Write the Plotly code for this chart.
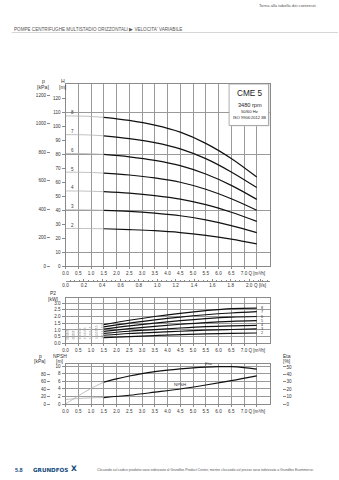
import plotly.graph_objects as go

W, H = 339, 480
FONT = "Liberation Sans"
TXT = "#333333"
GRID = "#9a9a9a"
BORDER = "#8a8a8a"


def fx(p):
    return p / W


def fy(p):
    return 1 - p / H


# ---------------- data ----------------
stages = [8, 7, 6, 5, 4, 3, 2]
q_gray = [0, 0.75, 1.5]
q_black = [1.5, 2.5, 3.5, 4.5, 5.5, 6.5, 7.5]

# head curves [m]
h_gray = [
    [107.2, 107.0, 106.2],
    [93.8, 93.7, 93.0],
    [80.4, 80.3, 79.7],
    [67.0, 66.9, 66.4],
    [53.6, 53.5, 53.1],
    [40.2, 40.1, 39.8],
    [26.8, 26.8, 26.6],
]
h_black = [
    [106.2, 104.0, 100.6, 95.6, 87.6, 76.8, 63.5],
    [93.0, 91.0, 88.1, 83.7, 76.7, 67.2, 56.0],
    [79.7, 78.0, 75.5, 71.7, 65.7, 57.6, 47.6],
    [66.4, 65.0, 62.9, 59.8, 54.8, 48.0, 39.8],
    [53.1, 52.0, 50.3, 47.8, 43.8, 38.4, 31.9],
    [39.8, 39.0, 37.7, 35.9, 32.9, 28.8, 23.8],
    [26.6, 26.0, 25.2, 23.9, 21.9, 19.2, 15.8],
]

# power curves P2 [kW]
p2_gray = [
    [0.95, 1.12, 1.39],
    [0.83, 0.98, 1.22],
    [0.72, 0.85, 1.06],
    [0.62, 0.73, 0.89],
    [0.52, 0.61, 0.74],
    [0.42, 0.49, 0.60],
    [0.32, 0.36, 0.42],
]
p2_black = [
    [1.39, 1.72, 2.00, 2.24, 2.44, 2.59, 2.63],
    [1.22, 1.50, 1.75, 1.96, 2.13, 2.26, 2.36],
    [1.06, 1.30, 1.51, 1.69, 1.84, 1.95, 2.00],
    [0.89, 1.09, 1.27, 1.42, 1.55, 1.64, 1.69],
    [0.74, 0.90, 1.02, 1.14, 1.24, 1.30, 1.34],
    [0.60, 0.73, 0.82, 0.90, 0.98, 1.03, 1.07],
    [0.42, 0.50, 0.58, 0.65, 0.70, 0.74, 0.77],
]

# NPSH [m]
npsh_q_gray = [0, 0.75, 1.5]
npsh_gray = [1.2, 1.55, 1.7]
npsh_q_black = [1.5, 2.5, 3.5, 4.5, 5.5, 6.5, 7.5]
npsh_black = [1.7, 2.3, 3.1, 3.95, 5.0, 6.15, 7.4]

# Efficiency [%]
eta_q_gray = [0, 0.5, 1.0, 1.5]
eta_gray = [0, 11, 21, 29.5]
eta_q_black = [1.5, 2.0, 2.5, 3.0, 3.5, 4.0, 4.5, 5.0, 5.5, 6.0, 6.5, 7.0, 7.5]
eta_black = [29.5, 34, 37.8, 41, 43.6, 45.7, 47.4, 48.8, 49.8, 50.4, 50.5, 49.2, 47]

# tick labels
q_ticks = [0, 0.5, 1.0, 1.5, 2.0, 2.5, 3.0, 3.5, 4.0, 4.5, 5.0, 5.5, 6.0, 6.5, 7.0, 7.5]
q_ticktext = ["0.0", "0.5", "1.0", "1.5", "2.0", "2.5", "3.0", "3.5", "4.0", "4.5",
              "5.0", "5.5", "6.0", "6.5", "7.0", "Q [m³/h]"]
ls_ticks = [0, 0.2, 0.4, 0.6, 0.8, 1.0, 1.2, 1.4, 1.6, 1.8, 2.0, 2.12]
ls_ticktext = ["0.0", "0.2", "0.4", "0.6", "0.8", "1.0", "1.2", "1.4", "1.6", "1.8", "2.0", "Q [l/s]"]
h_ticks = [0, 10, 20, 30, 40, 50, 60, 70, 80, 90, 100, 110, 120]
h_grid = [10, 40, 80, 110]
kpa_ticks = [0, 200, 400, 600, 800, 1000, 1200]
p2_ticks = [0, 0.5, 1.0, 1.5, 2.0, 2.5, 3.0]
p2_ticktext = ["0.0", "0.5", "1.0", "1.5", "2.0", "2.5", "3.0"]
npsh_ticks = [0, 2, 4, 6, 8, 10]
npsh_kpa_ticks = [0, 20, 40, 60, 80]
eta_ticks = [0, 10, 20, 30, 40, 50]

# ---------------- figure ----------------
fig = go.Figure()

GRAYC = "#b0b0b0"
BLACKC = "#111111"

for i, n in enumerate(stages):
    fig.add_trace(go.Scatter(x=q_gray, y=h_gray[i], mode="lines", xaxis="x", yaxis="y",
                             line=dict(color=GRAYC, width=0.8, shape="spline"), hoverinfo="skip"))
    fig.add_trace(go.Scatter(x=q_black, y=h_black[i], mode="lines", xaxis="x", yaxis="y",
                             line=dict(color=BLACKC, width=1.2, shape="spline"), hoverinfo="skip"))
    fig.add_trace(go.Scatter(x=q_gray, y=p2_gray[i], mode="lines", xaxis="x3", yaxis="y4",
                             line=dict(color=GRAYC, width=0.8, shape="spline", dash="dot"), hoverinfo="skip"))
    fig.add_trace(go.Scatter(x=q_black, y=p2_black[i], mode="lines", xaxis="x3", yaxis="y4",
                             line=dict(color=BLACKC, width=1.2, shape="spline"), hoverinfo="skip"))

fig.add_trace(go.Scatter(x=npsh_q_gray, y=npsh_gray, mode="lines", xaxis="x4", yaxis="y5",
                         line=dict(color=GRAYC, width=0.8, shape="spline"), hoverinfo="skip"))
fig.add_trace(go.Scatter(x=npsh_q_black, y=npsh_black, mode="lines", xaxis="x4", yaxis="y5",
                         line=dict(color=BLACKC, width=1.2, shape="spline"), hoverinfo="skip"))
fig.add_trace(go.Scatter(x=eta_q_gray, y=eta_gray, mode="lines", xaxis="x4", yaxis="y7",
                         line=dict(color=GRAYC, width=0.8, shape="spline"), hoverinfo="skip"))
fig.add_trace(go.Scatter(x=eta_q_black, y=eta_black, mode="lines", xaxis="x4", yaxis="y7",
                         line=dict(color=BLACKC, width=1.2, shape="spline"), hoverinfo="skip"))

# invisible carriers so that the secondary axes (kPa, l/s, grid helper) are drawn
for xa, ya in [("x", "y2"), ("x", "y3"), ("x2", "y"), ("x4", "y6")]:
    fig.add_trace(go.Scatter(x=[None], y=[None], xaxis=xa, yaxis=ya, mode="markers",
                             marker=dict(opacity=0), hoverinfo="skip"))

tickfont = dict(family=FONT, size=4.6, color=TXT)
XDOM = [fx(65.5), fx(269.5)]


def xaxis_common(anchor):
    return dict(domain=XDOM, range=[0, 8], anchor=anchor, tickvals=q_ticks, ticktext=q_ticktext,
                tickangle=0, showgrid=True, gridcolor=GRID, gridwidth=0.7, showline=True, mirror=True,
                linecolor=BORDER, linewidth=1, ticks="outside", ticklen=2, tickcolor=BORDER,
                tickfont=tickfont, zeroline=False, fixedrange=True)


layout = dict(
    width=W, height=H, margin=dict(l=0, r=0, t=0, b=0, autoexpand=False),
    paper_bgcolor="white", plot_bgcolor="white", showlegend=False,
    font=dict(family=FONT, color=TXT),
    xaxis=xaxis_common("y"),
    xaxis2=dict(overlaying="x", anchor="free", position=fy(281), side="bottom", range=[0, 8 / 3.6],
                tickvals=ls_ticks, ticktext=ls_ticktext, tickangle=0, showgrid=False, showline=True,
                linecolor=BORDER, linewidth=0.8, ticks="inside", ticklen=2.5, tickcolor=BORDER,
                minor=dict(dtick=0.05, ticks="inside", ticklen=1.5, tickcolor=BORDER),
                tickfont=tickfont, zeroline=False),
    xaxis3=xaxis_common("y4"),
    xaxis4=xaxis_common("y5"),
    yaxis=dict(domain=[fy(266), fy(84)], range=[0, 130], anchor="x", tickvals=h_ticks,
               showgrid=False, showline=True, mirror=True, linecolor=BORDER, linewidth=1,
               ticks="outside", ticklen=3, tickcolor=BORDER, tickfont=tickfont, zeroline=False),
    yaxis2=dict(overlaying="y", anchor="free", position=fx(50), side="left", range=[0, 1280],
                tickvals=kpa_ticks, showgrid=False, showline=False, ticks="outside", ticklen=3,
                tickcolor=BORDER, tickfont=tickfont, zeroline=False),
    yaxis3=dict(overlaying="y", anchor="x", range=[0, 130], tickvals=h_grid, showgrid=True,
                gridcolor=GRID, gridwidth=0.7, showticklabels=False, ticks="", showline=False,
                zeroline=False),
    yaxis4=dict(domain=[fy(343.3), fy(298)], range=[0, 3.38], anchor="x3", tickvals=p2_ticks,
                ticktext=p2_ticktext, showgrid=True, gridcolor=GRID, gridwidth=0.7, showline=True,
                mirror=True, linecolor=BORDER, linewidth=1, ticks="outside", ticklen=3,
                tickcolor=BORDER, tickfont=tickfont, zeroline=False),
    yaxis5=dict(domain=[fy(404), fy(364.3)], range=[0, 10.45], anchor="x4", tickvals=npsh_ticks,
                showgrid=True, gridcolor=GRID, gridwidth=0.7, showline=True, mirror=True,
                linecolor=BORDER, linewidth=1, ticks="outside", ticklen=3, tickcolor=BORDER,
                tickfont=tickfont, zeroline=False),
    yaxis6=dict(overlaying="y5", anchor="free", position=fx(50), side="left", range=[0, 107],
                tickvals=npsh_kpa_ticks, showgrid=False, showline=False, ticks="outside", ticklen=3,
                tickcolor=BORDER, tickfont=tickfont, zeroline=False),
    yaxis7=dict(overlaying="y5", anchor="free", position=fx(281.5), side="right", range=[0, 53.6],
                tickvals=eta_ticks, showgrid=False, showline=False, ticks="outside", ticklen=3,
                tickcolor=BORDER, tickfont=tickfont, zeroline=False),
)
fig.update_layout(**layout)

ann = []


def txt(x, y, s, size=4.8, color=TXT, xanchor="center", bold=False, family=FONT):
    ann.append(dict(x=fx(x), y=fy(y), xref="paper", yref="paper", text=("<b>%s</b>" % s) if bold else s,
                    showarrow=False, xanchor=xanchor, yanchor="middle",
                    font=dict(size=size, color=color, family=family)))


# header / footer
txt(318, 6, "Torna alla tabella dei contenuti", size=4.2, color="#555", xanchor="right")
txt(12, 29, "POMPE CENTRIFUGHE MULTISTADIO ORIZZONTALI ▶ VELOCITA' VARIABILE", size=4.6,
    color="#555", xanchor="left")
txt(13, 469.5, "5.8", size=5.5, color="#11497b", xanchor="left", bold=True)
txt(31, 469.5, "GRUNDFOS", size=5.6, color="#11497b", xanchor="left", bold=True, family="DejaVu Sans")
txt(74, 468.5, "X", size=7.5, color="#11497b", xanchor="center", bold=True, family="DejaVu Sans")
txt(95, 469.5, "Cliccando sul codice prodotto sarai indirizzato al Grundfos Product Center, mentre "
    "cliccando sul prezzo sarai indirizzato a Grundfos Ecommerce.", size=3.4, color="#555",
    xanchor="left")

# top chart axis titles
txt(43, 81, "p", size=5.2)
txt(43, 87.5, "[kPa]", size=5.2)
txt(63, 81, "H", size=5.2)
txt(63, 87.5, "[m]", size=5.2)

# CME box texts
txt(249.5, 93.5, "CME 5", size=8.2, color="#222")
txt(249.5, 104.5, "3480 rpm", size=5.6, color="#222")
txt(249.5, 111.2, "50/60 Hz", size=4.2, color="#222")
txt(249.5, 117.8, "ISO 9906:2012 3B", size=4.0, color="#222")

# P2 titles
txt(53, 293, "P2", size=5.0)
txt(53, 298.5, "[kW]", size=5.0)

# NPSH titles
txt(40, 355.5, "p", size=5.0)
txt(40, 361, "[kPa]", size=5.0)
txt(60, 355.5, "NPSH", size=5.0)
txt(60, 361, "[m]", size=5.0)
txt(287, 355.5, "Eta", size=5.0)
txt(287, 361, "[%]", size=5.0)

# header rule and CME box
fig.add_shape(type="line", xref="paper", yref="paper", x0=fx(11.7), x1=fx(338), y0=fy(32.5), y1=fy(32.5),
              line=dict(color="#cccccc", width=0.8))
fig.add_shape(type="rect", xref="x domain", yref="y domain", x0=0.807, x1=1.0, y0=0.768, y1=1.0,
              fillcolor="#d0d0d0", line=dict(width=0), layer="above")
fig.add_shape(type="rect", xref="x domain", yref="y domain", x0=0.802, x1=0.995, y0=0.772, y1=1.0,
              fillcolor="white", line=dict(color="#999999", width=0.8), layer="above")

for a in ann:
    fig.add_annotation(**a)

# stage labels
for i, n in enumerate(stages):
    fig.add_annotation(x=0.28, y=h_gray[i][0], xref="x", yref="y", text=str(n), showarrow=False,
                       yshift=3, font=dict(size=4.5, color=TXT, family=FONT))
    fig.add_annotation(x=7.6, y=p2_black[i][-1], xref="x3", yref="y4", text=str(n), showarrow=False,
                       xanchor="left", font=dict(size=3.8, color=TXT, family=FONT))

fig.add_annotation(x=5.6, y=eta_black[8], xref="x4", yref="y7", text="Eta", showarrow=False,
                   yshift=4, font=dict(size=4.4, color=TXT, family=FONT))
fig.add_annotation(x=4.5, y=npsh_black[3], xref="x4", yref="y5", text="NPSH", showarrow=False,
                   yshift=4, font=dict(size=4.4, color=TXT, family=FONT))

fig.write_html("out.html")
